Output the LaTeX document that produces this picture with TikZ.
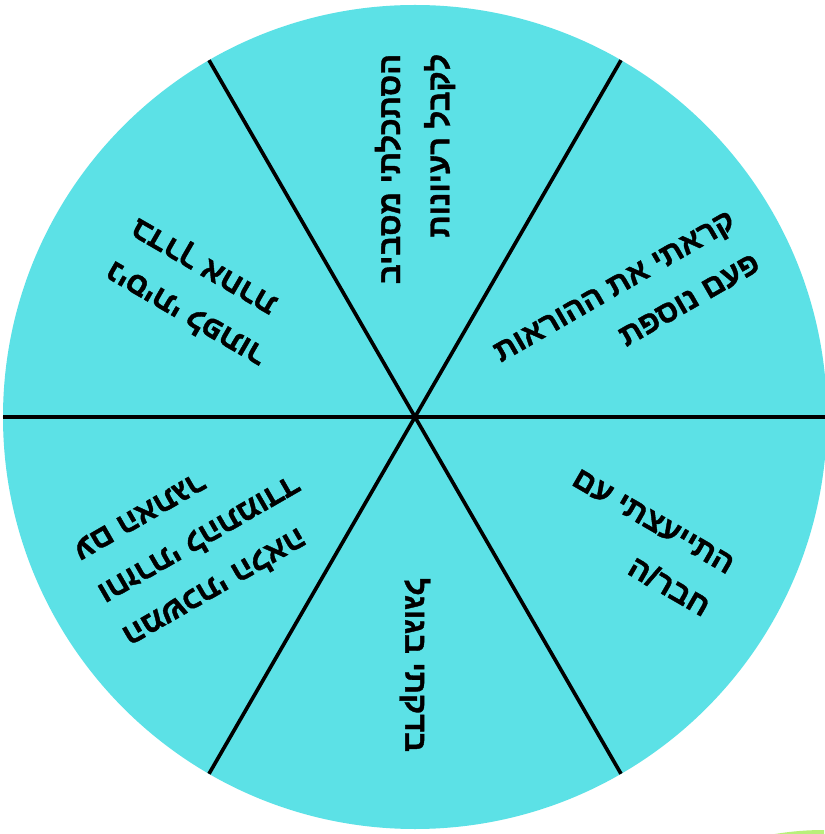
\documentclass[tikz,border=0pt]{standalone}
\usepackage{fontspec}
\setmainfont{Liberation Sans}
\newfontfamily\hebfont[Script=Hebrew, BoldFeatures={FakeBold=1.2}]{Liberation Sans}
\TeXXeTstate=1
\usepackage{tikz}
\definecolor{wheelcyan}{HTML}{5CE1E6}
\definecolor{cornergreen}{HTML}{B8F07A}
\tikzset{
  sectortext/.style={align=right, text=black, inner sep=0pt,
    font=\hebfont\bfseries\fontsize{22}{35}\selectfont},
  divider/.style={draw=black, line width=2.6pt},
}

\begin{document}
\begin{tikzpicture}[x=0.025cm, y=0.025cm]
  \useasboundingbox (-415,-417) rectangle (409,417);
  \fill[white] (-415,-417) rectangle (409,417);

  % edge of the next shape, bottom right corner
  \begin{scope}
    \clip (-415,-417) rectangle (409,417);
    \fill[cornergreen] (409,-713) circle (300);
  \end{scope}

  % Wheel
  \fill[wheelcyan] (0,0) circle (412);
  \coordinate (hub) at (0,0);
  \foreach \a in {0,60,120} {
    \draw[divider] (\a:412) -- (\a+180:412);
  }

  % Sectors (counter-clockwise from the top)
  \node[sectortext, rotate=90] (lookaround) at (90:248)
    {\beginR הסתכלתי מסביב\endR\\\beginR לקבל רעיונות\endR};
  \node[sectortext, rotate=150] (otherway) at (150:250)
    {\beginR ניסיתי לפתור\endR\\\beginR בדרך אחרת\endR};
  \node[sectortext, rotate=210] (moveon) at (210:248)
    {\beginR המשכתי הלאה\endR\\\beginR וחזרתי להתמודד\endR\\\beginR עם האתגר\endR};
  \node[sectortext, rotate=270] (google) at (270:248)
    {\beginR בדקתי בגוגל\endR};
  \node[sectortext, rotate=330] (friend) at (226,-126)
    {\beginR התייעצתי עם\endR\\\beginR חבר/ה\endR};
  \node[sectortext, rotate=30] (reread) at (212,109)
    {\beginR קראתי את ההוראות\endR\\\beginR פעם נוספת\endR};

\end{tikzpicture}
\end{document}
